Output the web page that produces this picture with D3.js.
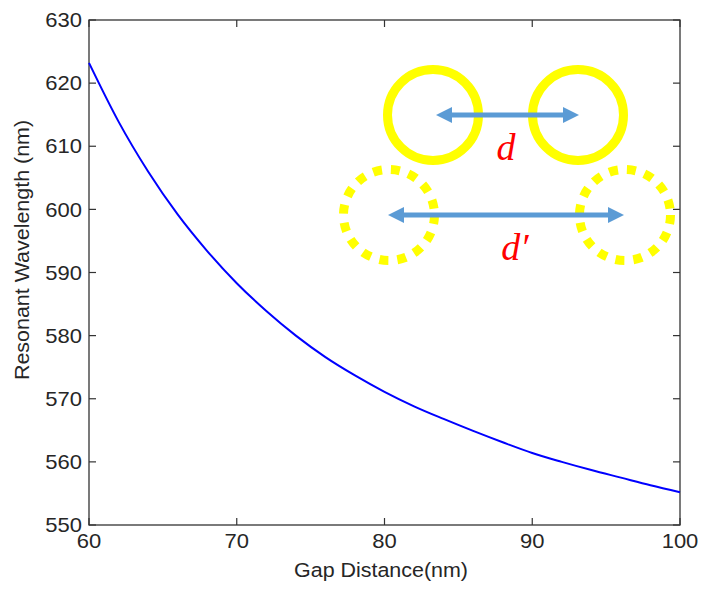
<!DOCTYPE html>
<html>
<head>
<meta charset="utf-8">
<script src="https://cdn.jsdelivr.net/npm/d3@7"></script>
<style>
  body { margin: 0; background: #fff; }
  svg text { font-family: Arial, 'Liberation Sans', sans-serif; fill: #262626; }
</style>
</head>
<body>
<div id="chart"></div>
<script>
// gap distance (nm) and resonant wavelength (nm)
let gaps = [60, 62, 64, 66, 68, 70, 72, 74, 76, 78, 80, 82, 84, 86, 88, 90, 92, 94, 96, 98, 100]
let wavelengths = [623.2, 613.9, 606.0, 599.2, 593.4, 588.3, 583.9, 580.0, 576.6, 573.7, 571.1,
  568.8, 566.8, 564.9, 563.1, 561.4, 560.0, 558.7, 557.5, 556.3, 555.2]
let xTicks = [60, 70, 80, 90, 100]
let yTicks = [550, 560, 570, 580, 590, 600, 610, 620, 630]

let axisColor = '#333'
let width = 701
let height = 589
let margin = { top: 20, right: 21, bottom: 64, left: 89 }
// the source picture is stretched a little sideways, so text is too
let stretch = 1.1

let svg = d3.select('#chart').append('svg')
  .attr('width', width)
  .attr('height', height)

let x = d3.scaleLinear().domain([60, 100]).range([margin.left, width - margin.right])
let y = d3.scaleLinear().domain([550, 630]).range([height - margin.bottom, margin.top])

let tickLen = 7

// box
svg.append('rect')
  .attr('x', x(60)).attr('y', y(630))
  .attr('width', x(100) - x(60)).attr('height', y(550) - y(630))
  .attr('fill', 'none').attr('stroke', axisColor).attr('stroke-width', 1.3)

// ticks, mirrored on all four sides (inward)
let tickG = svg.append('g').attr('stroke', axisColor).attr('stroke-width', 1.2)
xTicks.forEach(t => {
  tickG.append('line').attr('x1', x(t)).attr('x2', x(t)).attr('y1', y(550)).attr('y2', y(550) - tickLen)
  tickG.append('line').attr('x1', x(t)).attr('x2', x(t)).attr('y1', y(630)).attr('y2', y(630) + tickLen)
})
yTicks.forEach(t => {
  tickG.append('line').attr('x1', x(60)).attr('x2', x(60) + tickLen).attr('y1', y(t)).attr('y2', y(t))
  tickG.append('line').attr('x1', x(100)).attr('x2', x(100) - tickLen).attr('y1', y(t)).attr('y2', y(t))
})

svg.selectAll('.x-label')
  .data(xTicks)
  .enter()
  .append('text')
  .attr('class', 'x-label')
  .attr('transform', d => 'translate(' + x(d) + ',' + (y(550) + 23) + ') scale(' + stretch + ',1)')
  .attr('text-anchor', 'middle')
  .style('font-size', '20px')
  .text(d => d)

svg.selectAll('.y-label')
  .data(yTicks)
  .enter()
  .append('text')
  .attr('class', 'y-label')
  .attr('transform', d => 'translate(' + (x(60) - 7) + ',' + y(d) + ') scale(' + stretch + ',1)')
  .attr('dy', '0.36em')
  .attr('text-anchor', 'end')
  .style('font-size', '20px')
  .text(d => d)

svg.append('text')
  .attr('transform', 'translate(381,577) scale(' + stretch + ',1)')
  .attr('text-anchor', 'middle')
  .style('font-size', '19.5px')
  .text('Gap Distance(nm)')

svg.append('text')
  .attr('transform', 'translate(29,250) rotate(-90) scale(' + stretch + ',1)')
  .attr('text-anchor', 'middle')
  .style('font-size', '19.5px')
  .text('Resonant Wavelength (nm)')

// curve
let line = d3.line()
  .x((d, i) => x(gaps[i]))
  .y(d => y(d))
  .curve(d3.curveMonotoneX)

svg.append('path')
  .datum(wavelengths)
  .attr('d', line)
  .attr('fill', 'none')
  .attr('stroke', '#0000ff')
  .attr('stroke-width', 2)

// inset sketch: two rings at gap d and at gap d'
let ringYellow = '#ffff00'
let arrowBlue = '#5b9bd5'

let defs = svg.append('defs')
defs.append('marker')
  .attr('id', 'head')
  .attr('viewBox', '0 0 16 16')
  .attr('refX', 8).attr('refY', 8)
  .attr('markerWidth', 16).attr('markerHeight', 16)
  .attr('markerUnits', 'userSpaceOnUse')
  .attr('orient', 'auto-start-reverse')
  .append('path')
  .attr('d', 'M0,0 L16,8 L0,16 Z')
  .attr('fill', arrowBlue)

let sketch = svg.append('g')
sketch.selectAll('.ring')
  .data([{ cx: 433, cy: 115, dash: null }, { cx: 578, cy: 115, dash: null },
    { cx: 389, cy: 215, dash: '9,9' }, { cx: 625, cy: 215, dash: '9,9' }])
  .enter()
  .append('circle')
  .attr('cx', d => d.cx).attr('cy', d => d.cy).attr('r', 45.5)
  .attr('fill', 'none')
  .attr('stroke', ringYellow)
  .attr('stroke-width', 9)
  .attr('stroke-dasharray', d => d.dash)

// arrows: x1/x2 are the tips
sketch.selectAll('.arrow')
  .data([{ x1: 436, x2: 579, y: 115 }, { x1: 388, x2: 624, y: 215 }])
  .enter()
  .append('line')
  .attr('x1', d => d.x1 + 8).attr('x2', d => d.x2 - 8)
  .attr('y1', d => d.y).attr('y2', d => d.y)
  .attr('stroke', arrowBlue)
  .attr('stroke-width', 5)
  .attr('marker-start', 'url(#head)')
  .attr('marker-end', 'url(#head)')

sketch.append('text')
  .attr('x', 506).attr('y', 160)
  .attr('text-anchor', 'middle')
  .style('font-family', "'Liberation Serif', 'DejaVu Serif', serif")
  .style('font-style', 'italic')
  .style('font-size', '38px')
  .style('fill', '#ff0000')
  .text('d')

sketch.append('text')
  .attr('x', 515).attr('y', 260)
  .attr('text-anchor', 'middle')
  .style('font-family', "'Liberation Serif', 'DejaVu Serif', serif")
  .style('font-style', 'italic')
  .style('font-size', '38px')
  .style('fill', '#ff0000')
  .text('d\u2032')
</script>
</body>
</html>
